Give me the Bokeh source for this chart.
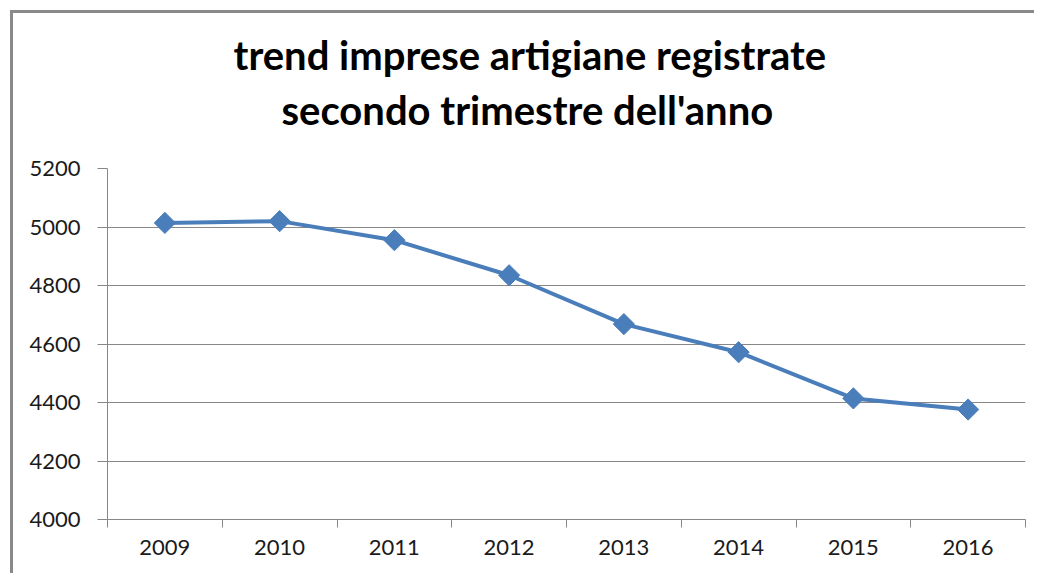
import math
from bokeh.plotting import figure
from bokeh.models import FixedTicker, Range1d, Title
from bokeh.embed import file_html
from bokeh.resources import INLINE

years = [2009, 2010, 2011, 2012, 2013, 2014, 2015, 2016]
imprese = [5014, 5020, 4955, 4835, 4668, 4572, 4414, 4376]
y_ticks = [4000, 4200, 4400, 4600, 4800, 5000, 5200]
title_lines = ["trend imprese artigiane registrate", "secondo trimestre dell'anno"]

BLUE = "#4a7ebb"
GRAY = "#878787"
FONT = "Lato"

p = figure(width=1024, height=563, output_backend="svg", toolbar_location=None,
           x_range=Range1d(years[0] - 0.5, years[-1] + 0.5),
           y_range=Range1d(y_ticks[0], y_ticks[-1]),
           title=title_lines[0],
           min_border_left=94, min_border_right=12, min_border_bottom=57, min_border_top=155)
p.styles = {"margin-left": "10px", "margin-top": "10px",
            "border-left": "3px solid #898989", "border-top": "3px solid #898989"}

p.title.align = "left"
p.title.offset = 126
p.title.text_font = FONT
p.title.text_font_size = "40px"
p.title.text_font_style = "bold"
p.title.text_color = "#000000"
p.title.standoff = -60

t2 = Title(text=title_lines[1], align="left", offset=174, text_font=FONT,
           text_font_size="40px", text_font_style="bold", text_color="#000000", standoff=70)
p.add_layout(t2, "above")

p.outline_line_color = None
p.background_fill_color = "white"
p.border_fill_color = "white"

# y axis
p.yaxis.ticker = FixedTicker(ticks=y_ticks)
p.yaxis.axis_line_color = GRAY
p.yaxis.major_tick_line_color = GRAY
p.yaxis.major_tick_out = 10
p.yaxis.major_tick_in = 0
p.yaxis.minor_tick_line_color = None
p.yaxis.major_label_text_font = FONT
p.yaxis.major_label_text_font_size = "22px"
p.yaxis.major_label_text_color = "#1a1a1a"
p.yaxis.major_label_standoff = 17

# x axis
p.xaxis.ticker = FixedTicker(ticks=years, minor_ticks=[y - 0.5 for y in years] + [years[-1] + 0.5])
p.xaxis.major_label_overrides = {y: str(y) for y in years}
p.xaxis.axis_line_color = GRAY
p.xaxis.major_tick_line_color = None
p.xaxis.minor_tick_line_color = GRAY
p.xaxis.minor_tick_out = 8
p.xaxis.minor_tick_in = 0
p.xaxis.major_label_text_font = FONT
p.xaxis.major_label_text_font_size = "22px"
p.xaxis.major_label_text_color = "#1a1a1a"
p.xaxis.major_label_standoff = 12

p.xgrid.grid_line_color = None
p.ygrid.ticker = FixedTicker(ticks=y_ticks)
p.ygrid.grid_line_color = GRAY
p.ygrid.grid_line_width = 1

p.line(years, imprese, line_color=BLUE, line_width=4)
p.scatter(years, imprese, marker="square", size=15, angle=math.pi / 4,
          fill_color=BLUE, line_color=BLUE, line_width=1)

open("out.html", "w").write(file_html(p, INLINE))
